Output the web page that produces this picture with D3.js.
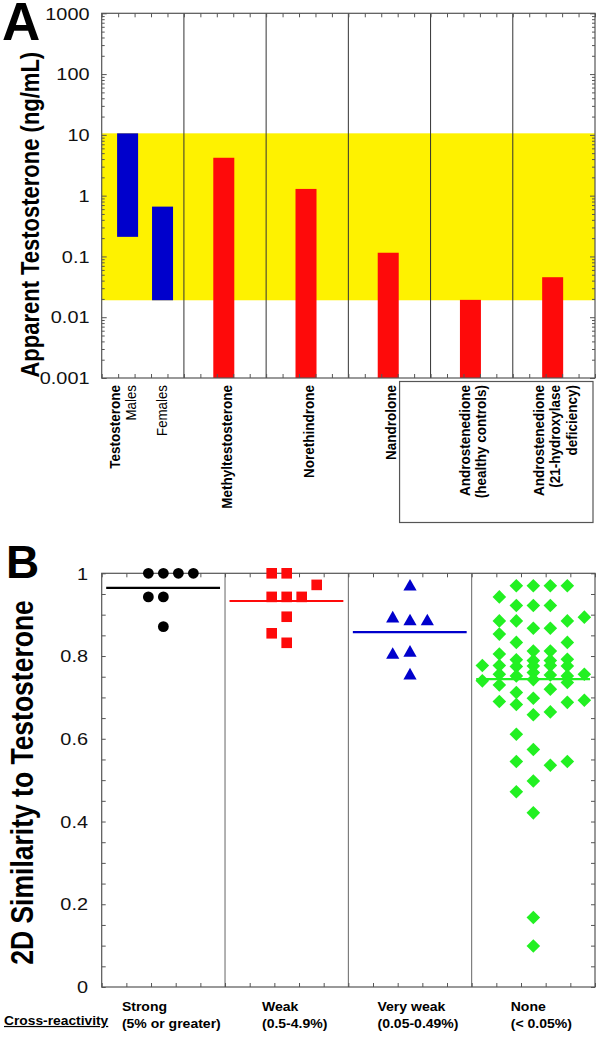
<!DOCTYPE html>
<html><head><meta charset="utf-8">
<script src="https://cdn.jsdelivr.net/npm/d3@7"></script>
<style>
html,body{margin:0;padding:0;background:#fff;}
svg{display:block;font-family:"Liberation Sans",Arial,sans-serif;}
</style></head><body>
<svg id="chart" width="600" height="1041"></svg>
<script>
// ---------- Panel A data ----------
const aGroups = ["Testosterone","Methyltestosterone","Norethindrone","Nandrolone","Androstenedione (healthy controls)","Androstenedione (21-hydroxylase deficiency)"];
const aGroupLines = [["Testosterone"],["Methyltestosterone"],["Norethindrone"],["Nandrolone"],["Androstenedione","(healthy controls)"],["Androstenedione","(21-hydroxylase","deficiency)"]];
const aBarNames = ["Males","Females","Methyltestosterone","Norethindrone","Nandrolone","Androstenedione (healthy controls)","Androstenedione (21-hydroxylase deficiency)"];
const aBarGroup = [0,0,1,2,3,4,5];
const aBarLow  = [0.21, 0.019, 0.001, 0.001, 0.001, 0.001, 0.001];
const aBarHigh = [10.6, 0.66, 4.2, 1.29, 0.115, 0.0193, 0.0455];
const aBarKind = ["reference","reference","cross","cross","cross","cross","cross"];
const aRefRange = [0.019, 10.6];
const aTickValues = [0.001,0.01,0.1,1,10,100,1000];
const aTickLabels = ["0.001","0.01","0.1","1","10","100","1000"];
const aYTitle = "Apparent Testosterone (ng/mL)";

// ---------- Panel B data ----------
const bCategories = ["Strong","Weak","Very weak","None"];
const bCategoryNotes = ["(5% or greater)","(0.5-4.9%)","(0.05-0.49%)","(< 0.05%)"];
const bMeans = [0.965, 0.933, 0.858, 0.744];
const bTickValues = [0,0.2,0.4,0.6,0.8,1];
const bTickLabels = ["0","0.2","0.4","0.6","0.8","1"];
const bYTitle = "2D Similarity to Testosterone";
const bRowLabel = "Cross-reactivity";

const strongValues = [1,1,1,1,0.943,0.943,0.871];
const strongCols   = [-1,0,1,2,-1,0,0];
const weakValues = [1,1,0.972,0.943,0.943,0.943,0.895,0.855,0.832];
const weakCols   = [-1,0,2,-1,0,1,0,-1,0];
const veryWeakValues = [0.969,0.892,0.885,0.885,0.804,0.809,0.754];
const veryWeakCols   = [0,-1,0,1,-1,0,0];
const noneValues = [
  0.777,0.740,
  0.943,0.885,0.853,0.805,0.777,0.756,0.730,0.690,
  0.970,0.922,0.885,0.833,0.791,0.775,0.752,0.712,0.683,0.611,0.545,0.472,
  0.970,0.922,0.867,0.812,0.789,0.776,0.760,0.743,0.698,0.658,0.574,0.498,0.421,0.168,0.099,
  0.970,0.922,0.867,0.812,0.789,0.777,0.754,0.720,0.665,0.536,
  0.970,0.885,0.833,0.792,0.776,0.752,0.736,0.688,0.545,
  0.894,0.756,0.693
];
const noneCols = [
  -3,-3,
  -2,-2,-2,-2,-2,-2,-2,-2,
  -1,-1,-1,-1,-1,-1,-1,-1,-1,-1,-1,-1,
  0,0,0,0,0,0,0,0,0,0,0,0,0,0,0,
  1,1,1,1,1,1,1,1,1,1,
  2,2,2,2,2,2,2,2,2,
  3,3,3
];

// ---------- drawing ----------
const svg = d3.select("#chart");
svg.append("rect").attr("width",600).attr("height",1041).attr("fill","#fff");
const FRAME = "#555";
const SX = 1.15; // horizontal text stretch seen in the original

// ===== Panel A =====
const A = {left:101.7, right:595, top:13.3, bottom:378};
const yA = d3.scaleLog().domain([0.001,1000]).range([A.bottom, A.top]);
const xGA = d3.scaleBand().domain(d3.range(aGroups.length)).range([A.left, A.right]);
const xTA = d3.scaleLinear().domain([0, aGroups.length*5]).range([A.left, A.right]);
const gA = svg.append("g");

gA.append("rect")
  .attr("x", A.left).attr("width", A.right - A.left)
  .attr("y", yA(aRefRange[1])).attr("height", yA(aRefRange[0]) - yA(aRefRange[1]))
  .attr("fill", "#FEF200");

function barCenter(i){
  const g = aBarGroup[i];
  const members = aBarGroup.map((v,k)=>v===g?k:-1).filter(k=>k>=0);
  const fr = members.length > 1 ? [0.315, 0.74][members.indexOf(i)] : 0.485;
  return xGA(g) + fr * xGA.bandwidth();
}
gA.selectAll("rect.bar").data(aBarNames).join("rect").attr("class","bar")
  .attr("x", (d,i)=>barCenter(i)-10.5).attr("width", 21)
  .attr("y", (d,i)=>yA(aBarHigh[i]))
  .attr("height", (d,i)=>yA(aBarLow[i]) - yA(aBarHigh[i]))
  .attr("fill", (d,i)=>aBarKind[i]==="reference" ? "#0000CC" : "#FE0A0A");

gA.selectAll("line.sep").data(d3.range(1, aGroups.length)).join("line").attr("class","sep")
  .attr("x1", d=>xGA(d)).attr("x2", d=>xGA(d))
  .attr("y1", A.top).attr("y2", A.bottom)
  .attr("stroke", "#333").attr("stroke-width", 1);

const minorA = [];
aTickValues.slice(0,-1).forEach(d=>{ for(let k=2;k<10;k++) minorA.push(d*k); });
function styleAxis(sel){
  sel.select(".domain").remove();
  sel.selectAll(".tick line").attr("stroke", FRAME).attr("stroke-width", 1);
  sel.selectAll(".tick text").remove();
}
gA.append("g").attr("transform",`translate(${A.left},0)`).call(d3.axisLeft(yA).tickValues(aTickValues).tickSize(-5).tickSizeOuter(0)).call(styleAxis);
gA.append("g").attr("transform",`translate(${A.left},0)`).call(d3.axisLeft(yA).tickValues(minorA).tickSize(-3).tickSizeOuter(0)).call(styleAxis);
gA.append("g").attr("transform",`translate(${A.right},0)`).call(d3.axisRight(yA).tickValues(aTickValues).tickSize(-5).tickSizeOuter(0)).call(styleAxis);
gA.append("g").attr("transform",`translate(${A.right},0)`).call(d3.axisRight(yA).tickValues(minorA).tickSize(-3).tickSizeOuter(0)).call(styleAxis);
gA.append("g").attr("transform",`translate(0,${A.top})`).call(d3.axisTop(xTA).tickValues(d3.range(0,31)).tickSize(-4).tickSizeOuter(0)).call(styleAxis);
gA.append("g").attr("transform",`translate(0,${A.bottom})`).call(d3.axisBottom(xTA).tickValues(d3.range(0,31)).tickSize(-4).tickSizeOuter(0)).call(styleAxis);

gA.append("rect").attr("x",A.left).attr("y",A.top).attr("width",A.right-A.left).attr("height",A.bottom-A.top)
  .attr("fill","none").attr("stroke",FRAME).attr("stroke-width",1.2);

gA.selectAll("text.yl").data(aTickValues).join("text").attr("class","yl")
  .attr("transform", d=>`translate(89.5,${yA(d)}) scale(${SX},1)`).attr("dy","0.36em")
  .attr("text-anchor","end").attr("font-size", 17.3).attr("fill","#111")
  .text((d,i)=>aTickLabels[i]);

gA.append("text").attr("transform",`translate(38.5,214.7) scale(${SX},1) rotate(-90)`)
  .attr("text-anchor","middle").attr("font-size",22).attr("font-weight","bold")
  .text(aYTitle);
gA.append("text").attr("x",2).attr("y",40).attr("font-size",53).attr("font-weight","bold").text("A");

const labTop = 385;
const lineGap = 16.3;
aGroupLines.forEach((lines, g)=>{
  const members = aBarGroup.map((v,k)=>v===g?k:-1).filter(k=>k>=0);
  let cx;
  if (members.length > 1) {
    cx = xGA(g) + 12.5;
    members.forEach(k=>{
      gA.append("text").attr("transform",`translate(${barCenter(k) + (k===members[0]?3:-1)},${labTop}) scale(${SX},1) rotate(-90)`)
        .attr("text-anchor","end").attr("dy","0.36em").attr("font-size",13.3)
        .text(aBarNames[k]);
    });
  } else {
    cx = xGA(g) + xGA.bandwidth()/2 + 1 - (lines.length-1)*lineGap/2;
  }
  const t = gA.append("text").attr("transform",`translate(${cx},${labTop}) scale(${SX},1) rotate(-90)`)
    .attr("text-anchor","end").attr("font-size",13.5).attr("font-weight","bold");
  lines.forEach((ln,j)=>{
    t.append("tspan").attr("x",0).attr("y",0).attr("dy", (0.36 + j*lineGap/SX/13.5) + "em").text(ln);
  });
});
gA.append("rect").attr("x", xGA(4)-31).attr("y", 381.5).attr("width", A.right - 2 - (xGA(4)-31)).attr("height", 141)
  .attr("fill","none").attr("stroke",FRAME).attr("stroke-width",1.2);

// ===== Panel B =====
const B = {left:101.7, right:595, top:573.3, bottom:987};
const yB = d3.scaleLinear().domain([0,1]).range([B.bottom, B.top]);
const xGB = d3.scaleBand().domain(d3.range(bCategories.length)).range([B.left, B.right]);
const xTB = d3.scaleLinear().domain([0, bCategories.length*5]).range([B.left, B.right]);
const gB = svg.append("g");

gB.selectAll("line.sep").data(d3.range(1, bCategories.length)).join("line").attr("class","sep")
  .attr("x1", d=>xGB(d)).attr("x2", d=>xGB(d))
  .attr("y1", B.top).attr("y2", B.bottom)
  .attr("stroke", "#666").attr("stroke-width", 1);

const bMinor = d3.range(0,21).map(i=>i/20);
gB.append("g").attr("transform",`translate(${B.left},0)`).call(d3.axisLeft(yB).tickValues(bMinor).tickSize(-4).tickSizeOuter(0)).call(styleAxis);
gB.append("g").attr("transform",`translate(${B.right},0)`).call(d3.axisRight(yB).tickValues(bMinor).tickSize(-4).tickSizeOuter(0)).call(styleAxis);
gB.append("g").attr("transform",`translate(0,${B.top})`).call(d3.axisTop(xTB).tickValues(d3.range(0,21)).tickSize(-4).tickSizeOuter(0)).call(styleAxis);
gB.append("g").attr("transform",`translate(0,${B.bottom})`).call(d3.axisBottom(xTB).tickValues(d3.range(0,21)).tickSize(-4).tickSizeOuter(0)).call(styleAxis);
gB.append("rect").attr("x",B.left).attr("y",B.top).attr("width",B.right-B.left).attr("height",B.bottom-B.top)
  .attr("fill","none").attr("stroke",FRAME).attr("stroke-width",1.2);

gB.selectAll("text.yl").data(bTickValues).join("text").attr("class","yl")
  .attr("transform", d=>`translate(88,${yB(d)}) scale(${SX},1)`).attr("dy","0.36em")
  .attr("text-anchor","end").attr("font-size", 17.3).attr("fill","#111")
  .text((d,i)=>bTickLabels[i]);

const shapes = {
  circle: "M5.4,0A5.4,5.4 0 1,1 -5.4,0A5.4,5.4 0 1,1 5.4,0Z",
  square: "M-5.3,-5.3H5.3V5.3H-5.3Z",
  triangle: "M0,-7.2L6.6,4.4L-6.6,4.4Z",
  diamond: "M0,-6.8L6.8,0L0,6.8L-6.8,0Z"
};
const series = [
  {values: strongValues, cols: strongCols, color:"#000000", shape:"circle", gap:15},
  {values: weakValues, cols: weakCols, color:"#FE0A0A", shape:"square", gap:15},
  {values: veryWeakValues, cols: veryWeakCols, color:"#0000CC", shape:"triangle", gap:17.3},
  {values: noneValues, cols: noneCols, color:"#22F022", shape:"diamond", gap:17}
];
series.forEach((s, gi)=>{
  const cx = xGB(gi) + xGB.bandwidth()/2;
  gB.append("g").selectAll("path").data(s.values).join("path")
    .attr("transform", (d,i)=>`translate(${cx + s.cols[i]*s.gap},${yB(d)})`)
    .attr("d", shapes[s.shape]).attr("fill", s.color);
});
gB.selectAll("line.mean").data(bMeans).join("line").attr("class","mean")
  .attr("x1", (d,i)=>xGB(i)+4.5).attr("x2", (d,i)=>xGB(i)+xGB.bandwidth()-5)
  .attr("y1", d=>yB(d)).attr("y2", d=>yB(d))
  .attr("stroke", (d,i)=>series[i].color).attr("stroke-width", 2.2);

gB.append("text").attr("transform",`translate(32.5,782.5) scale(${SX},1) rotate(-90)`)
  .attr("text-anchor","middle").attr("font-size",26.5).attr("font-weight","bold")
  .text(bYTitle);
gB.append("text").attr("x",6).attr("y",578).attr("font-size",46).attr("font-weight","bold").text("B");

gB.append("text").attr("transform",`translate(4,1025) scale(${SX},1)`).attr("font-size",12).attr("font-weight","bold")
  .attr("text-decoration","underline").text(bRowLabel);
bCategories.forEach((c,i)=>{
  const t = gB.append("text").attr("font-size",12.2).attr("font-weight","bold");
  const t1 = t.append("tspan").attr("x",0).attr("y",1011).text(c);
  const t2 = t.append("tspan").attr("x",0).attr("y",1028).text(bCategoryNotes[i]);
  const w = SX * Math.max(t1.node().getComputedTextLength(), t2.node().getComputedTextLength());
  const x0 = xGB(i) + xGB.bandwidth()/2 - w/2 + 8;
  t.attr("transform", `translate(${x0},0) scale(${SX},1)`);
});
</script>
</body></html>
